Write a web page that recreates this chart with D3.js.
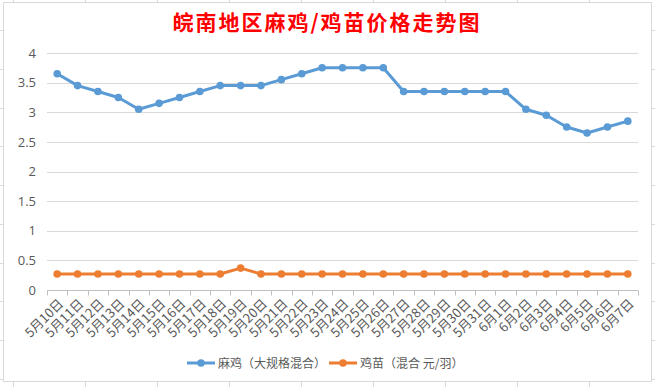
<!DOCTYPE html>
<html>
<head>
<meta charset="utf-8">
<script src="https://cdn.jsdelivr.net/npm/d3@7"></script>
<style>
  html, body { margin: 0; padding: 0; background: #fff; }
  svg { display: block; font-family: "Noto Sans CJK SC", "Noto Sans", sans-serif; }
</style>
</head>
<body>
<svg id="chart" width="655" height="387"></svg>
<script>
const dates = [
  '5月10日', '5月11日', '5月12日', '5月13日', '5月14日', '5月15日', '5月16日',
  '5月17日', '5月18日', '5月19日', '5月20日', '5月21日', '5月22日', '5月23日',
  '5月24日', '5月25日', '5月26日', '5月27日', '5月28日', '5月29日', '5月30日',
  '5月31日', '6月1日', '6月2日', '6月3日', '6月4日', '6月5日', '6月6日', '6月7日',
];
const henPrice = [
  3.65, 3.45, 3.35, 3.25, 3.05, 3.15, 3.25, 3.35, 3.45, 3.45, 3.45, 3.55, 3.65, 3.75,
  3.75, 3.75, 3.75, 3.35, 3.35, 3.35, 3.35, 3.35, 3.35, 3.05, 2.95, 2.75, 2.65, 2.75, 2.85,
];
const chickPrice = [
  0.27, 0.27, 0.27, 0.27, 0.27, 0.27, 0.27, 0.27, 0.27, 0.37, 0.27, 0.27, 0.27, 0.27,
  0.27, 0.27, 0.27, 0.27, 0.27, 0.27, 0.27, 0.27, 0.27, 0.27, 0.27, 0.27, 0.27, 0.27, 0.27,
];
const yTicks = [0, 0.5, 1, 1.5, 2, 2.5, 3, 3.5, 4];
const seriesNames = ['麻鸡（大规格混合）', '鸡苗（混合 元/羽）'];
const title = '皖南地区麻鸡/鸡苗价格走势图';

const colors = ['#5b9bd5', '#ed7d31'];
const svg = d3.select('#chart');
const W = 655, H = 387;

// excel cell grid peeking around the chart
const bg = svg.append('g').attr('stroke', '#dadada').attr('stroke-width', 1);
d3.range(13, W, 72).forEach(x => {
  bg.append('line').attr('x1', x + 0.5).attr('x2', x + 0.5).attr('y1', 0).attr('y2', H);
});
d3.range(30, H, 38.75).forEach(y => {
  bg.append('line').attr('x1', 0).attr('x2', W).attr('y1', Math.round(y) + 0.5).attr('y2', Math.round(y) + 0.5);
});

svg.append('rect')
  .attr('x', 3.5).attr('y', 2.5)
  .attr('width', 648).attr('height', 379)
  .attr('fill', '#fff')
  .attr('stroke', '#d9d9d9');

svg.append('text')
  .attr('x', 327).attr('y', 30)
  .attr('text-anchor', 'middle')
  .attr('fill', '#ff0000')
  .attr('font-size', 21)
  .attr('font-weight', 'bold')
  .attr('letter-spacing', 2)
  .text(title);

const plot = { left: 47, right: 638, top: 53, bottom: 290 };

const x = d3.scaleBand().domain(dates).range([plot.left, plot.right]);
const y = d3.scaleLinear().domain([0, 4]).range([plot.bottom, plot.top]);

// gridlines
svg.append('g')
  .selectAll('line')
  .data(yTicks.filter(d => d > 0))
  .join('line')
    .attr('x1', plot.left).attr('x2', plot.right)
    .attr('y1', d => Math.round(y(d)) + 0.5)
    .attr('y2', d => Math.round(y(d)) + 0.5)
    .attr('stroke', '#d9d9d9');

// y axis labels
const yAxis = svg.append('g')
  .attr('transform', `translate(${plot.left},0)`)
  .call(d3.axisLeft(y).tickValues(yTicks).tickFormat(d => String(d)).tickSize(0).tickPadding(11));
yAxis.select('.domain').remove();
yAxis.selectAll('text')
  .attr('fill', '#595959')
  .attr('font-size', 13)
  .attr('font-family', '"Open Sans", "Noto Sans", sans-serif');

// x axis with ticks between categories
const xAxis = svg.append('g')
  .attr('transform', `translate(0,${Math.round(plot.bottom) + 0.5})`);
xAxis.append('line')
  .attr('x1', plot.left).attr('x2', plot.right)
  .attr('stroke', '#bfbfbf');
xAxis.selectAll('.tk')
  .data(d3.range(dates.length + 1))
  .join('line')
    .attr('class', 'tk')
    .attr('x1', i => Math.round(plot.left + i * x.step()) + 0.5)
    .attr('x2', i => Math.round(plot.left + i * x.step()) + 0.5)
    .attr('y1', 0).attr('y2', 5)
    .attr('stroke', '#bfbfbf');
xAxis.selectAll('.lbl')
  .data(dates)
  .join('text')
    .attr('class', 'lbl')
    .attr('transform', d => `translate(${x(d) + x.bandwidth() / 2 + 7},${14}) rotate(-45)`)
    .attr('text-anchor', 'end')
    .attr('fill', '#595959')
    .attr('font-size', 13)
    .text(d => d);

const line = d3.line()
  .x((d, i) => x(dates[i]) + x.bandwidth() / 2)
  .y(d => y(d));

[henPrice, chickPrice].forEach((values, k) => {
  const g = svg.append('g');
  g.append('path')
    .datum(values)
    .attr('fill', 'none')
    .attr('stroke', colors[k])
    .attr('stroke-width', 3)
    .attr('stroke-linejoin', 'round')
    .attr('d', line);
  g.selectAll('circle')
    .data(values)
    .join('circle')
      .attr('cx', (d, i) => x(dates[i]) + x.bandwidth() / 2)
      .attr('cy', d => y(d))
      .attr('r', 3.8)
      .attr('fill', colors[k]);
});

// legend
const legend = svg.append('g').attr('transform', 'translate(0,363)');
const legendX = [187, 329];
seriesNames.forEach((name, k) => {
  const g = legend.append('g').attr('transform', `translate(${legendX[k]},0)`);
  g.append('line')
    .attr('x1', 0).attr('x2', 28)
    .attr('stroke', colors[k]).attr('stroke-width', 3);
  g.append('circle').attr('cx', 14).attr('r', 3.8).attr('fill', colors[k]);
  g.append('text')
    .attr('x', 31).attr('y', 4.5)
    .attr('fill', '#595959')
    .attr('font-size', 12)
    .text(name);
});
</script>
</body>
</html>
